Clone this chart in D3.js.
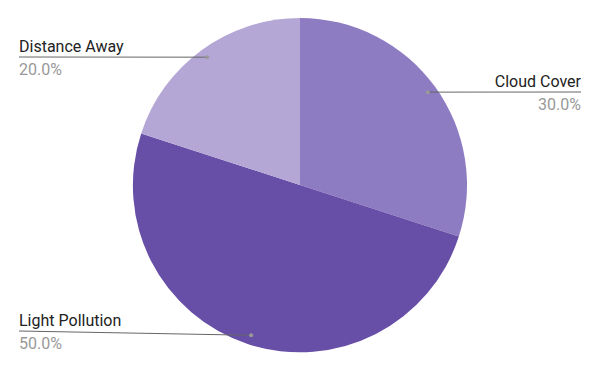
<!DOCTYPE html>
<html>
<head>
<meta charset="utf-8">
<script src="https://cdn.jsdelivr.net/npm/d3@7"></script>
<style>
  body { margin: 0; background: #fff; }
  text { font-family: Roboto, "Noto Sans", sans-serif; }
</style>
</head>
<body>
<div id="chart"></div>
<script>
// data
let categories = ["Cloud Cover", "Light Pollution", "Distance Away"];
let values = [30, 50, 20];
let colors = ["#8e7cc3", "#674ea7", "#b4a7d6"];

let width = 600;
let height = 371;
let cx = 300, cy = 185, radius = 167;

// label layout: line y and which side
let labelLayout = [
  { y: 92, side: "right", x: 581 },
  { y: 331, side: "left", x: 19 },
  { y: 57, side: "left", x: 19 }
];

let svg = d3.select("#chart")
  .append("svg")
  .attr("width", width)
  .attr("height", height);

let g = svg.append("g")
  .attr("transform", "translate(" + cx + "," + cy + ")");

let total = d3.sum(values);
let data = categories.map((c, i) => ({ name: c, value: values[i], color: colors[i] }));

let pie = d3.pie()
  .value(d => d.value)
  .sort(null);

let arc = d3.arc()
  .innerRadius(0)
  .outerRadius(radius);

let dotArc = d3.arc()
  .innerRadius(158)
  .outerRadius(158);

let arcs = pie(data);

g.selectAll("path.slice")
  .data(arcs)
  .enter()
  .append("path")
  .attr("class", "slice")
  .attr("d", arc)
  .attr("fill", d => d.data.color);

let labels = svg.append("g").attr("class", "labels");

arcs.forEach((d, i) => {
  let p = dotArc.centroid(d);
  let px = p[0] + cx, py = p[1] + cy;
  let lay = labelLayout[i];
  let endX = lay.x;

  labels.append("line")
    .attr("x1", px).attr("y1", py)
    .attr("x2", endX).attr("y2", lay.y)
    .attr("stroke", "#666")
    .attr("stroke-width", 1);

  labels.append("circle")
    .attr("cx", px).attr("cy", py)
    .attr("r", 2)
    .attr("fill", "#999");

  let anchor = lay.side === "right" ? "end" : "start";

  labels.append("text")
    .attr("x", endX)
    .attr("y", lay.y - 5)
    .attr("text-anchor", anchor)
    .attr("font-size", 16)
    .attr("fill", "#222")
    .text(d.data.name);

  labels.append("text")
    .attr("x", endX)
    .attr("y", lay.y + 18)
    .attr("text-anchor", anchor)
    .attr("font-size", 16)
    .attr("fill", "#999")
    .text(d3.format(".1%")(d.data.value / total));
});
</script>
</body>
</html>
